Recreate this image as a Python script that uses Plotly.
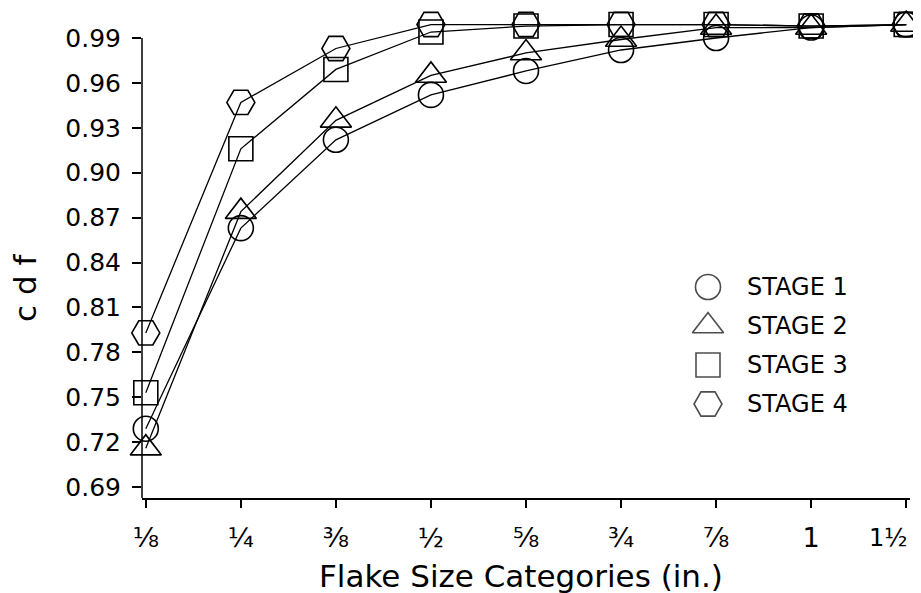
import plotly.graph_objects as go

categories = ["⅛", "¼", "⅜", "½", "⅝", "¾", "⅞", "1", "1½"]
stage1 = [0.729, 0.863, 0.922, 0.952, 0.968, 0.982, 0.990, 0.997, 0.999]
stage2 = [0.716, 0.874, 0.935, 0.965, 0.980, 0.989, 0.997, 0.997, 0.999]
stage3 = [0.753, 0.916, 0.969, 0.994, 0.998, 0.999, 0.999, 0.998, 0.999]
stage4 = [0.793, 0.947, 0.983, 0.999, 0.999, 0.999, 0.999, 0.998, 0.999]
series_names = ["STAGE 1", "STAGE 2", "STAGE 3", "STAGE 4"]
y_ticks = [0.69, 0.72, 0.75, 0.78, 0.81, 0.84, 0.87, 0.90, 0.93, 0.96, 0.99]

FONT = "DejaVu Sans"
W, H = 905, 593
L, R, T, B = 134, 3, 11, 103
PW, PH = W - L - R, H - T - B

xs = list(range(len(categories)))
series = [stage1, stage2, stage3, stage4]
symbols = ["circle-open", "triangle-up-open", "square-open", "hexagon2-open"]
sizes = [25, 27, 24, 28]

fig = go.Figure()
for vals, sym, sz in zip(series, symbols, sizes):
    fig.add_trace(go.Scatter(
        x=xs, y=vals, mode="lines+markers", showlegend=False,
        line=dict(color="black", width=1.3),
        marker=dict(symbol=sym, size=sz, color="black", line=dict(width=1.6, color="black")),
        cliponaxis=False,
    ))

# legend key drawn on a hidden helper axis (one row per series)
rows = list(range(len(series_names)))
fig.add_trace(go.Scatter(
    x=[0] * len(rows), y=rows, mode="markers", showlegend=False,
    xaxis="x2", yaxis="y2", hoverinfo="skip",
    marker=dict(symbol=symbols, size=sizes, color="black", line=dict(width=1.6, color="black")),
    cliponaxis=False,
))
legend_annotations = [
    dict(text=name, xref="x2", yref="y2", x=0, y=r, xshift=37, showarrow=False,
         xanchor="left", yanchor="middle", font=dict(size=24, family=FONT))
    for name, r in zip(series_names, rows)
]

# last category label placed so it stays inside the page
last_label = dict(text=categories[-1], xref="paper", yref="paper", x=1.0, y=-(530 - (T + PH)) / PH,
                  showarrow=False, xanchor="right", yanchor="middle",
                  font=dict(size=24, family=FONT))

lx = (700 - L) / PW
fig.update_layout(
    width=W, height=H,
    margin=dict(l=L, r=R, t=T, b=B),
    paper_bgcolor="white", plot_bgcolor="white",
    font=dict(family=FONT, color="black"),
    showlegend=False,
    xaxis=dict(
        range=[-0.04, 8.04], tickmode="array", tickvals=xs,
        ticktext=categories[:-1] + [""],
        showgrid=False, zeroline=False, showline=True, linecolor="black", linewidth=1.5,
        ticks="outside", ticklen=8, tickwidth=1.5, tickcolor="black",
        tickfont=dict(size=27, family=FONT), ticklabelstandoff=7,
    ),
    yaxis=dict(
        range=[0.6827, 1.0027], tickmode="array", tickvals=y_ticks,
        ticktext=[f"{v:.2f}" for v in y_ticks],
        showgrid=False, zeroline=False, showline=False,
        ticks="outside", ticklen=9, tickwidth=1.5, tickcolor="black",
        tickfont=dict(size=25, family=FONT), ticklabelstandoff=6,
    ),
    xaxis2=dict(domain=[lx - 0.013, lx + 0.013], range=[-1, 1], visible=False, anchor="y2"),
    yaxis2=dict(domain=[0.1555, 0.4812], range=[3.5, -0.5], visible=False, anchor="x2"),
    shapes=[dict(type="line", xref="paper", yref="y", x0=0, x1=0, y0=0.6827, y1=0.99,
                 line=dict(color="black", width=1.5))],
    annotations=[
        dict(text="Flake Size Categories (in.)", xref="paper", yref="paper",
             x=(513 - L) / PW, y=-(568 - (T + PH)) / PH, showarrow=False,
             font=dict(size=31, family=FONT), xanchor="center", yanchor="middle"),
        dict(text="c d f", xref="paper", yref="paper", x=-(L - 17) / PW, y=((T + PH) - 280) / PH,
             showarrow=False, textangle=-90, font=dict(size=31, family=FONT),
             xanchor="center", yanchor="middle"),
        last_label,
    ] + legend_annotations,
)

fig.write_html("out.html")
